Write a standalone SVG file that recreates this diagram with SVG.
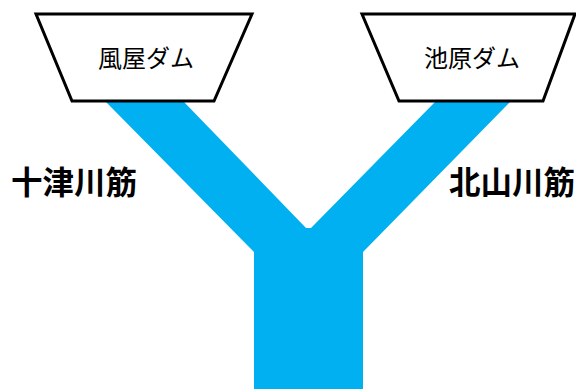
<svg xmlns="http://www.w3.org/2000/svg" width="576" height="389" viewBox="0 0 576 389">
<style>
.dam{fill:#fff;stroke:#000;stroke-width:3;stroke-linejoin:miter}
.dl{font-family:"Noto Sans CJK JP","Noto Sans CJK SC",sans-serif;font-size:24px;fill:#000;text-anchor:middle}
.rl{font-family:"Noto Sans CJK JP","Noto Sans CJK SC",sans-serif;font-size:31.5px;font-weight:bold;fill:#000}
</style>
<rect width="576" height="389" fill="#fff"/>
<g id="connectors">
<polygon fill="#00B0F0" points="106,102 184,102 306,228 311,228 435,102 510,102 363,252 363,389 254,389 254,252"/>
</g>
<g id="dam-kazeya">
<polygon class="dam" points="36,14 252,14 214,101 72,101"/>
<text class="dl" x="146" y="67">風屋ダム</text>
</g>
<g id="dam-ikehara">
<polygon class="dam" points="362,14 575,14 543,101 399,101"/>
<text class="dl" x="472" y="67">池原ダム</text>
</g>
<g id="label-totsukawa">
<text class="rl" x="11" y="194">十津川筋</text>
</g>
<g id="label-kitayama">
<text class="rl" x="449" y="194">北山川筋</text>
</g>
</svg>
